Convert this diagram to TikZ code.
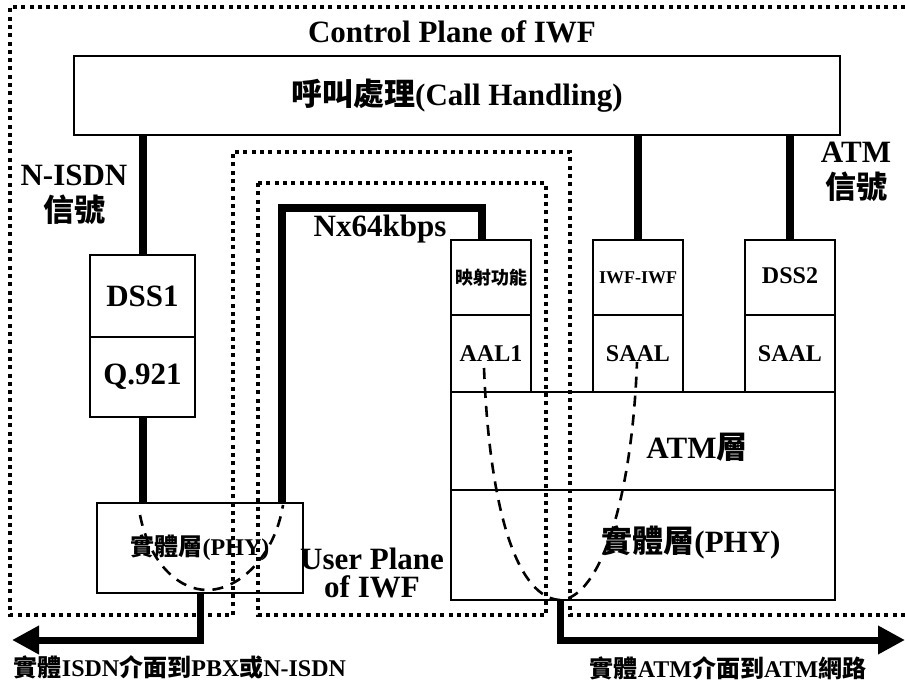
\documentclass[tikz,border=0pt]{standalone}
\usepackage{fontspec}
\setmainfont{Liberation Serif}
\newfontfamily\cjk{Noto Sans CJK TC}
\usetikzlibrary{arrows.meta}
\newcommand{\zh}[1]{{\cjk\bfseries #1}}

\begin{document}
\begin{tikzpicture}[x=1pt, y=-1pt,
      every node/.style={inner sep=0pt, outer sep=0pt},
      big/.style={font=\fontsize{31}{36}\selectfont\bfseries},
      mid/.style={font=\fontsize{24}{28}\selectfont\bfseries},
      small/.style={font=\fontsize{18}{20}\selectfont\bfseries},
      box/.style={draw, line width=2pt, align=center},
      sig/.style={line width=8pt},
      plane/.style={line width=4pt, dash pattern=on 4pt off 4.3pt},
      flow/.style={line width=2.6pt, dash pattern=on 11pt off 8pt},
      iface/.style={line width=7pt, -{Triangle[length=27pt, width=27pt]}}
    ]
      \useasboundingbox (0,0) rectangle (905,684);

      % planes
      \draw[plane] (905,7) -- (10,7) -- (10,615) -- (233,615) -- (233,152)
        -- (570,152) -- (570,615) -- (905,615);
      \draw[plane] (258,183) rectangle (546,615);
      \node[big] (ctrl) at (452,32) {Control Plane of IWF};
      \node[big, align=center, font=\fontsize{31}{28}\selectfont\bfseries]
        (user) at (372,573) {User Plane\\of IWF};

      % call handling
      \node[box, big, minimum width=766pt, minimum height=79pt] (call) at (457,95.5)
        {\zh{呼叫處理}(Call Handling)};
      \node[big, align=center] (isdnsig) at (74,195) {N-ISDN\\\zh{信號}};
      \node[big, align=center] (atmsig) at (856,172) {ATM\\\zh{信號}};

      % N-ISDN side
      \node[box, big, minimum width=105pt, minimum height=82pt] (dss1) at (142.5,296) {DSS1};
      \node[box, big, minimum width=105pt, minimum height=80pt] (q921) at (142.5,377) {Q.921};
      \node[box, mid, minimum width=206pt, minimum height=90pt] (phyL) at (200,548)
        {\zh{實體層}(PHY)};

      % ATM side
      \node[box, small, minimum width=80pt, minimum height=75pt] (map) at (491,277.5) {\zh{映射功能}};
      \node[box, mid, minimum width=80pt, minimum height=77pt] (aal1) at (491,353.5) {AAL1};
      \node[box, small, minimum width=90pt, minimum height=75pt] (iwf) at (638,277.5)
        {\raisebox{-8pt}{IWF-IWF}};
      \node[box, mid, minimum width=90pt, minimum height=77pt] (saal1) at (638,353.5) {SAAL};
      \node[box, mid, minimum width=90pt, minimum height=75pt] (dss2) at (790,277.5)
        {\raisebox{3pt}{DSS2}};
      \node[box, mid, minimum width=90pt, minimum height=77pt] (saal2) at (790,353.5) {SAAL};
      \node[box, minimum width=384pt, minimum height=98pt] (atm) at (643,441) {};
      \node[box, minimum width=384pt, minimum height=110pt] (phyR) at (643,545) {};
      \node[big] (atmlbl) at (697,447) {ATM\zh{層}};
      \node[big] (phylbl) at (691,542) {\zh{實體層}(PHY)};

      % signalling links
      \draw[sig] (call.south -| dss1.north) -- (dss1.north);
      \draw[sig] (q921.south) -- (q921.south |- phyL.north);
      \draw[sig] (call.south -| iwf.north) -- (iwf.north);
      \draw[sig] (call.south -| dss2.north) -- (dss2.north);

      % user channel
      \coordinate (nxA) at (282,208);
      \coordinate (nxB) at (482,208);
      \draw[sig] (nxA |- phyL.north) -- (nxA) -- (nxB) -- (nxB |- map.north);
      \node[big] (nx) at (380,229) {Nx64kbps};

      % paths through physical layers
      \draw[flow] (140,515) .. controls (150,565) and (180,590) .. (207,590)
        .. controls (240,590) and (275,555) .. (283,505);
      \draw[flow] (484,368) .. controls (490,520) and (520,598) .. (560,600)
        .. controls (600,598) and (632,500) .. (637,362);

      % external interfaces
      \coordinate (isdnEnd) at (12,640);
      \coordinate (atmEnd) at (905,640);
      \draw[iface] (phyL.south) |- (isdnEnd);
      \draw[iface] ([xshift=-83pt]phyR.south) |- (atmEnd);
      \node[mid] (isdnlbl) at (180,667) {\zh{實體}ISDN\zh{介面到}PBX\zh{或}N-ISDN};
      \node[mid] (atmlbl2) at (728,668) {\zh{實體}ATM\zh{介面到}ATM\zh{網路}};
    \end{tikzpicture}
\end{document}
